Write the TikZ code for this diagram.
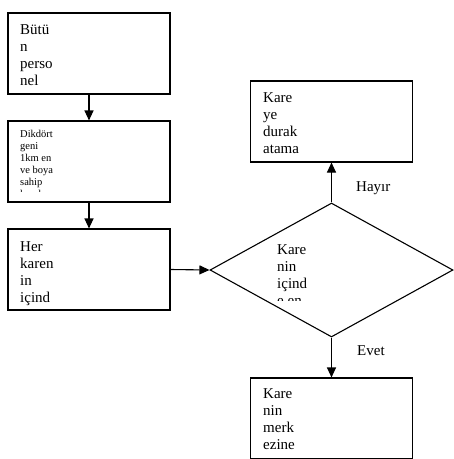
\documentclass[tikz,border=0pt]{standalone}
\usepackage{fontspec}
\setmainfont{Liberation Serif}
\usetikzlibrary{shapes.geometric,arrows.meta}

\tikzset{
  kutu/.style={draw, line width=1.1pt, minimum width=162pt, minimum height=81pt, inner sep=0pt},
  karar/.style={draw, diamond, line width=1.1pt, minimum width=243pt, minimum height=134pt, inner sep=0pt},
  yazi/.style={anchor=north west, inner sep=0pt, align=left, font=\fontsize{15}{17}\selectfont},
  kucukyazi/.style={anchor=north west, inner sep=0pt, align=left, font=\fontsize{10.5}{12}\selectfont},
  ok/.style={line width=1.1pt, -{Triangle[length=10pt,width=9pt]}}
}

\begin{document}
\begin{tikzpicture}[x=1pt,y=-1pt]
		\useasboundingbox (0,0) rectangle (454,459);

		% Sol sutun ------------------------------------------------------------
		\node[kutu] (personel) at (89,53.5) {};
		\node[yazi] (personelyazi) at (20,24.5) {Bütü\\n\\perso\\nel};

		\node[kutu] (dikdortgen) at (89,161.5) {};
		\begin{scope}
			\clip (10,123) rectangle (168,191); % alt satir kesik
			\node[kucukyazi] (dikdortgenyazi) at (20,130.5) {Dikdört\\geni\\1km en\\ve boya\\sahip\\karelere};
		\end{scope}

		\node[kutu] (herkare) at (89,269.5) {};
		\node[yazi] (herkareyazi) at (20,241.5) {Her\\karen\\in\\içind};

		% Karar ----------------------------------------------------------------
		\node[karar] (kontrol) at (331.5,270) {};
		\begin{scope}
			\clip (270,230) rectangle (330,300.5); % alt satir kesik
			\node[yazi] (kontrolyazi) at (277,244.5) {Kare\\nin\\içind\\e en};
		\end{scope}

		% Sag sutun ------------------------------------------------------------
		\node[kutu] (durak) at (331.5,121.5) {};
		\node[yazi] (durakyazi) at (263,92) {Kare\\ye\\durak\\atama};

		\node[kutu] (merkez) at (331.5,418.5) {};
		\node[yazi] (merkezyazi) at (263,388.5) {Kare\\nin\\merk\\ezine};

		% Oklar ----------------------------------------------------------------
		\draw[ok] (personel) -- (dikdortgen);
		\draw[ok] (dikdortgen) -- (herkare);
		\draw[ok] (herkare.east) -- (kontrol.west);
		\draw[ok] (kontrol.north) -- (durak.south);
		\draw[ok] (kontrol.south) -- (merkez.north);

		\node[yazi] (hayir) at (356,181) {Hayır};
		\node[yazi] (evet) at (357,345) {Evet};
	\end{tikzpicture}
\end{document}
